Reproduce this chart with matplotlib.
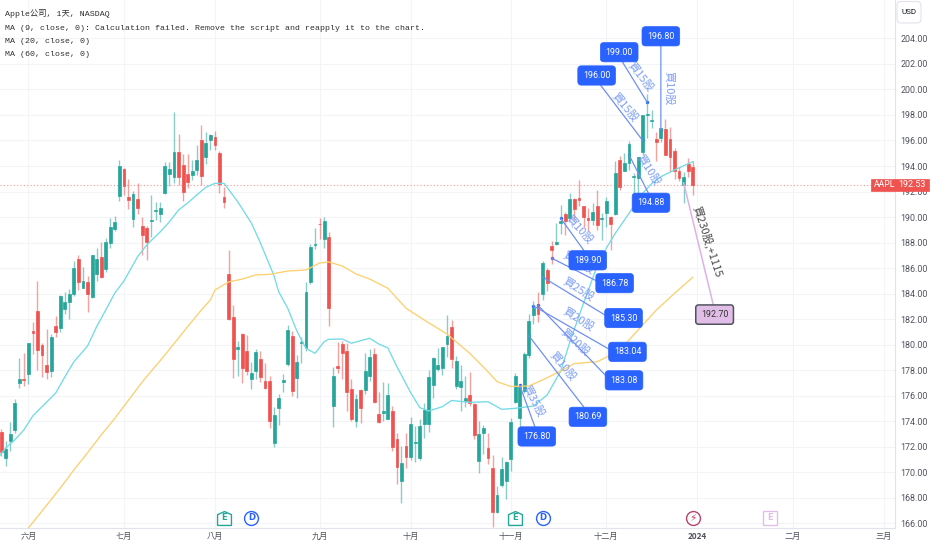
import matplotlib
matplotlib.use('Agg')
import matplotlib.pyplot as plt
from matplotlib.patches import Rectangle, FancyBboxPatch
from matplotlib.transforms import blended_transform_factory, IdentityTransform

# AAPL daily, one entry per bar, 2023-05-23 .. 2023-12-29
open_ = [173.13, 171.09, 172.41, 173.32, 176.96, 177.33,
         177.70, 181.03, 182.63, 179.97, 178.44, 177.90, 181.50, 181.27, 182.80, 183.37, 183.96, 186.73, 184.41, 184.90, 183.74, 185.55, 186.83, 185.89, 187.93, 189.08, 191.63,
         193.78, 191.57, 189.84, 191.41, 189.26, 189.16, 189.68, 190.50, 190.23, 191.90, 193.35, 193.10, 195.09, 194.10, 193.41, 193.33, 193.67, 196.02, 194.67, 196.06,
         196.24, 195.04, 191.57, 185.52, 182.13, 179.69, 180.87, 179.48, 177.32, 177.97, 178.88, 177.13, 177.14, 172.30, 175.07, 177.06, 178.52, 180.67, 177.38, 180.09, 179.70, 184.94, 187.84,
         189.49, 188.28, 188.40, 175.18, 178.35, 180.07, 179.49, 176.51, 174.00, 176.48, 176.48, 177.52, 179.26, 174.55, 174.67, 174.20, 174.82, 172.62, 169.34, 172.02,
         171.22, 172.26, 171.09, 173.79, 173.80, 176.81, 178.10, 178.20, 180.07, 181.42, 176.75, 176.65, 175.58, 176.04, 175.31, 170.91, 173.05, 171.88, 170.37, 166.91, 169.02, 169.35,
         171.00, 175.52, 174.24, 176.38, 179.18, 182.35, 182.96, 183.97, 185.82, 187.70, 187.85, 189.57, 190.25, 189.89, 191.41, 191.49, 190.87, 189.92, 189.78, 190.90, 189.84,
         190.33, 189.98, 190.21, 194.45, 193.63, 194.20, 193.11, 193.08, 195.09, 198.02, 197.53, 196.09, 196.16, 196.90, 196.10, 195.18, 193.61, 192.49, 194.14, 193.90]
high = [173.38, 172.42, 173.90, 175.77, 178.99, 179.35,
        180.12, 181.78, 184.95, 180.12, 181.21, 180.84, 182.23, 183.89, 184.15, 184.39, 186.52, 186.99, 186.10, 185.41, 187.05, 187.56, 188.05, 188.39, 189.90, 190.07, 194.48,
        193.88, 192.98, 192.02, 192.67, 189.99, 189.30, 191.70, 191.19, 191.18, 194.32, 194.33, 198.23, 196.47, 194.97, 194.91, 194.44, 195.64, 197.20, 196.63, 196.49,
        196.73, 195.18, 192.37, 187.38, 183.13, 180.27, 180.93, 180.75, 178.62, 179.69, 179.48, 178.54, 177.51, 175.10, 176.13, 177.68, 181.55, 181.10, 179.15, 180.59, 184.90, 187.85, 189.12,
        189.92, 189.98, 188.85, 178.21, 180.24, 180.30, 180.13, 177.30, 176.10, 176.50, 179.38, 179.63, 179.70, 176.30, 177.08, 176.97, 175.20, 173.04, 172.03, 173.07,
        174.30, 173.63, 174.21, 175.45, 177.99, 179.05, 179.72, 179.85, 182.34, 181.93, 179.08, 178.42, 177.58, 177.84, 175.42, 174.01, 173.67, 173.06, 171.38, 168.96, 171.17, 170.90,
        174.23, 177.78, 176.82, 179.43, 182.44, 183.45, 184.12, 186.57, 186.03, 188.11, 189.50, 190.96, 190.38, 191.91, 191.52, 192.93, 190.90, 190.67, 191.08, 192.09, 190.32,
        191.56, 190.05, 194.40, 194.76, 195.00, 195.99, 193.49, 194.72, 198.00, 199.62, 198.40, 196.63, 196.95, 197.68, 197.08, 195.41, 193.89, 193.50, 194.66, 194.40]
low = [171.28, 170.52, 171.69, 173.11, 176.57, 176.76,
       176.93, 179.26, 178.04, 177.43, 177.32, 177.46, 180.63, 180.97, 182.44, 182.02, 183.78, 184.27, 184.41, 182.59, 183.67, 185.01, 185.23, 185.67, 187.60, 188.94, 191.26,
       191.76, 190.62, 189.20, 190.24, 187.04, 186.60, 188.47, 189.78, 189.63, 191.81, 192.42, 192.65, 192.50, 191.23, 192.25, 192.92, 193.32, 192.55, 194.14, 195.26,
       195.28, 191.85, 190.69, 181.92, 177.35, 177.58, 177.01, 177.60, 176.55, 177.31, 177.05, 176.50, 173.48, 171.96, 173.74, 176.25, 178.33, 176.01, 175.82, 178.55, 179.50, 184.74, 187.48,
       188.28, 187.61, 181.47, 173.54, 177.79, 177.34, 174.82, 173.98, 173.58, 173.82, 176.17, 177.13, 175.40, 173.86, 174.05, 174.15, 171.66, 169.05, 167.62, 170.34,
       170.93, 170.82, 170.97, 172.68, 173.18, 175.80, 177.95, 177.60, 179.04, 178.14, 176.51, 174.80, 175.11, 175.19, 172.64, 169.93, 171.45, 170.65, 165.67, 166.83, 168.87, 167.90,
       170.12, 175.46, 173.35, 176.21, 178.97, 181.59, 181.81, 183.53, 184.21, 186.30, 187.78, 188.65, 188.57, 189.88, 189.74, 190.83, 189.25, 188.90, 189.40, 188.97, 188.19,
       189.23, 187.45, 190.18, 192.11, 193.59, 193.67, 191.42, 191.72, 194.85, 196.16, 197.00, 194.39, 195.89, 194.83, 193.50, 192.97, 192.83, 191.09, 193.17, 191.73]
close = [171.56, 171.84, 172.99, 175.43, 177.30, 177.25,
         180.09, 180.95, 179.58, 179.21, 177.82, 180.57, 180.96, 183.79, 183.31, 183.95, 186.01, 184.92, 185.01, 183.96, 187.00, 186.68, 185.27, 188.06, 189.25, 189.59, 193.97,
         192.46, 191.33, 191.81, 190.68, 188.61, 188.08, 189.77, 190.54, 190.69, 193.99, 193.73, 195.10, 193.13, 191.94, 192.75, 193.62, 194.50, 193.22, 195.83, 196.45,
         195.61, 192.58, 191.17, 181.99, 178.85, 179.80, 178.19, 177.97, 177.79, 179.46, 177.45, 176.57, 174.00, 174.49, 175.84, 177.23, 181.12, 176.38, 178.61, 180.19, 184.12, 187.65, 187.87,
         189.46, 189.70, 182.91, 177.56, 178.18, 179.36, 176.30, 174.21, 175.74, 175.01, 177.97, 179.07, 175.49, 173.93, 174.79, 176.08, 171.96, 170.43, 170.69, 171.21,
         173.75, 172.40, 173.66, 174.91, 177.49, 178.99, 178.39, 179.80, 180.71, 178.85, 178.72, 177.15, 175.84, 175.46, 172.88, 173.00, 173.44, 171.10, 166.89, 168.22, 170.29, 170.77,
         173.97, 177.57, 176.65, 179.23, 181.82, 182.89, 182.41, 186.40, 184.80, 187.44, 188.01, 189.71, 189.69, 191.45, 190.64, 191.31, 189.97, 189.79, 190.40, 189.37, 189.95,
         191.24, 189.43, 193.42, 192.32, 194.27, 195.71, 193.18, 194.71, 197.96, 198.11, 197.57, 195.89, 196.94, 194.83, 194.68, 193.60, 193.05, 193.15, 193.58, 192.53]

# moving averages at these bars
ma20_bars = [-1, 1, 3, 5, 7, 9, 12, 14, 16, 19, 21, 23, 25, 27, 30, 32, 35, 37, 39, 41, 43, 45, 47, 49, 52, 55, 57, 60, 61, 63, 65, 67, 69, 71, 72, 75, 77, 81, 83, 85, 87, 90, 92, 94, 97, 99, 103, 107, 110, 113, 117, 120, 123, 125, 128, 131, 133, 135, 137, 139, 140, 143, 145, 148, 152]
ma20 = [171.0, 171.90, 172.53, 173.31, 174.43, 175.14, 176.21, 177.46, 178.66, 179.89, 181.41, 182.71, 184.05, 184.99, 186.89, 187.81, 188.85, 189.63, 190.55, 191.10, 191.73, 192.33, 192.64, 192.64, 191.20, 189.53, 187.97, 185.38, 184.15, 182.85, 181.07, 179.71, 179.32, 180.23, 180.42, 180.44, 180.11, 180.50, 180.05, 179.74, 178.27, 176.25, 175.07, 174.80, 175.14, 175.62, 175.48, 175.53, 174.93, 175.01, 175.19, 176.05, 177.93, 180.21, 183.24, 186.16, 187.55, 188.73, 189.77, 190.81, 191.47, 192.63, 193.16, 193.69, 194.34]
ma60_bars = [6, 9, 13, 16, 19, 22, 25, 31, 36, 41, 44, 46, 47, 50, 53, 56, 59, 63, 67, 70, 72, 75, 78, 81, 85, 89, 93, 98, 103, 107, 109, 112, 116, 119, 123, 126, 131, 134, 137, 140, 144, 148, 152]
ma60 = [165.63, 166.96, 168.76, 170.18, 171.53, 172.92, 174.23, 177.07, 179.19, 181.41, 182.71, 183.50, 184.28, 184.91, 185.14, 185.46, 185.51, 185.77, 185.85, 186.40, 186.48, 186.16, 185.54, 185.14, 184.42, 182.85, 181.93, 180.83, 179.32, 177.88, 177.10, 176.72, 176.76, 177.23, 177.93, 178.52, 178.66, 179.19, 179.97, 181.15, 182.71, 184.02, 185.28]

last_price = 192.53
month_bars = [6, 27, 47, 70, 90, 112, 133, 153, 174, 194]
month_labels = ['六月', '七月', '八月', '九月', '十月', '十一月', '十二月', '2024', '二月', '三月']

# trades: where they sit on the chart and what they say
trade_bars = [114, 116, 118, 117, 119, 121, 123, 138, 141, 142, 145]
trade_prices = [176.80, 180.69, 183.08, 183.04, 185.30, 186.78, 189.90, 194.88, 196.00, 199.00, 196.80]
trade_notes = ['買35股', '買10股', '買20股', '買20股', '買25股', '買15股', '買10股', '買10股', '買15股', '買15股', '買10股']
# pixel offsets of price box and note from the trade point, note angle
box_off = [(17, -51), (59, -81), (86, -75), (94, -46), (81, -41), (63, -25), (27, -42), (22, -48), (-46, 65), (-28, 50), (0, 94)]
box_side = [(0.5, 1), (0.5, 1), (0, 0.5), (0, 0.5), (0, 0.5), (0, 0.5), (0.5, 1), (0.5, 1), (0.5, 0), (0.5, 0), (0.5, 0)]
note_off = [(13, -16), (34, -31), (37, -37), (45, -14), (36, -13), (27, -5), (19, -11), (19, -15), (-18, 33), (-7, 25), (8, 42)]
note_rot = [-62, -50, -42, -32, -32, -30, -47, -57, -50, -52, -90]

TEAL = '#26a69a'
RED = '#ef5350'
BLUE = '#2962ff'
NOTE_BLUE = '#7f9ff7'
GREY = '#50535e'
CJK = 'Noto Sans CJK TC'
S_W, S_H = 932, 550

fig = plt.figure(figsize=(9.32, 5.5), dpi=100)
ax = fig.add_axes([0, 1 - 528 / S_H, 895 / S_W, 528 / S_H])
ax.set_xlim(-0.24, 196.46)
ax.set_ylim(165.63, 207.01)

# grid
ax.set_yticks(range(166, 206, 2))
ax.set_yticklabels(['%.2f' % v for v in range(166, 206, 2)], family='Roboto', fontsize=6.4, color=GREY)
ax.set_xticks(month_bars)
ax.set_xticklabels(month_labels, family=CJK, fontsize=5.9, color=GREY)
ax.get_xticklabels()[7].set_fontweight('bold')
ax.grid(color='#f3f4f7', lw=0.8)
ax.set_axisbelow(True)
ax.yaxis.tick_right()
ax.tick_params(axis='y', length=0, pad=4)
ax.tick_params(axis='x', length=0, pad=3)
for s in ['top', 'left']:
    ax.spines[s].set_visible(False)
for s in ['right', 'bottom']:
    ax.spines[s].set_color('#e0e3eb')

# candles
bars = list(range(len(close)))
colors = [TEAL if c >= o else RED for o, c in zip(open_, close)]
ax.vlines(bars, low, high, colors=colors, lw=1.0, alpha=0.55, zorder=3)
ax.bar(bars, [abs(c - o) for o, c in zip(open_, close)], bottom=[min(o, c) for o, c in zip(open_, close)],
       width=0.62, color=colors, edgecolor=colors, lw=0.5, zorder=3.1)

# averages and last price
ax.plot(ma20_bars, ma20, color='#72dbe6', lw=0.95, zorder=4)
ax.plot(ma60_bars, ma60, color='#fdd06f', lw=0.95, zorder=4)
ax.axhline(last_price, color=RED, lw=0.8, ls=(0, (1, 2)), alpha=0.6, zorder=2)

# trade callouts
ax.scatter(trade_bars, trade_prices, s=6, color=BLUE, lw=0, zorder=2.9)
for b, p, off, side, n_off, note, rot in zip(trade_bars, trade_prices, box_off, box_side, note_off, trade_notes, note_rot):
    ax.annotate('%.2f' % p, xy=(b, p), xytext=off, textcoords='offset pixels', ha='center', va='center',
                family='Roboto', fontsize=6.4, color='white', zorder=7, annotation_clip=False,
                bbox=dict(boxstyle='round,pad=0.58,rounding_size=0.4', fc=BLUE, ec=BLUE, lw=0.5),
                arrowprops=dict(arrowstyle='-', color='#6f8ff5', lw=0.9, shrinkA=0, shrinkB=0, relpos=side))
    ax.annotate(note, xy=(b, p), xytext=n_off, textcoords='offset pixels', ha='center', va='center',
                family=CJK, fontsize=8, color=NOTE_BLUE, rotation=rot, rotation_mode='anchor', zorder=6)

# the closing trade
ax.annotate('192.70', xy=(150, 192.70), xytext=(31, -132), textcoords='offset pixels', ha='center', va='center',
            family='Roboto', fontsize=6.4, color='#333333', zorder=7,
            bbox=dict(boxstyle='round,pad=0.58,rounding_size=0.3', fc='#e1bee7', ec='#50535e', lw=1.1),
            arrowprops=dict(arrowstyle='-', color='#dcb3e4', lw=1.1, shrinkA=0, shrinkB=0, relpos=(0.5, 1)))
ax.annotate('買230股,+1115', xy=(150, 192.70), xytext=(24, -59), textcoords='offset pixels', ha='center', va='center',
            family=CJK, fontsize=8, color='#4a4a4a', rotation=-72, rotation_mode='anchor', zorder=6)

# events along the bottom
low_tr = blended_transform_factory(ax.transData, ax.transAxes)
house = [(-1, -1), (1, -1), (1, 0.55), (0, 1), (-1, 0.55), (-1, -1)]
ev_y = 10 / 528
for b, mk, col, txt, tc, fs in [(49, house, TEAL, 'E', TEAL, 6.2), (55, 'o', BLUE, 'D', BLUE, 6.2),
                                (113, house, TEAL, 'E', TEAL, 6.2), (119, 'o', BLUE, 'D', BLUE, 6.2),
                                (152, 'o', '#b5446e', '⚡', '#d0345f', 7.5), (169, 's', '#e1bee7', 'E', '#e1bee7', 6.2)]:
    ax.plot([b], [ev_y], marker=mk, ms=10, mfc='white', mec=col, mew=1.0, transform=low_tr, zorder=5, clip_on=False)
    ax.text(b, ev_y, txt, transform=low_tr, ha='center', va='center', fontsize=fs, color=tc,
            family='DejaVu Sans', fontweight='bold', zorder=6)

# last price tag over the axis
tag_tr = blended_transform_factory(ax.transAxes, ax.transData)
ax.add_patch(Rectangle((871 / 895, last_price - 0.49), 58 / 895, 0.98, transform=tag_tr, fc=RED, ec=RED,
                       lw=0.5, clip_on=False, zorder=10))
ax.text(874 / 895, last_price, 'AAPL', transform=tag_tr, ha='left', va='center', family='Roboto', fontsize=6.2,
        color='white', zorder=11)
ax.text(926 / 895, last_price, '%.2f' % last_price, transform=tag_tr, ha='right', va='center', family='Roboto',
        fontsize=6.4, color='white', zorder=11)

# legend text
legend_lines = ['Apple公司, 1天, NASDAQ',
                'MA (9, close, 0): Calculation failed. Remove the script and reapply it to the chart.',
                'MA (20, close, 0)', 'MA (60, close, 0)']
for y_px, line in zip([16, 30, 43, 56], legend_lines):
    fig.text(5 / S_W, 1 - y_px / S_H, line, family=['Liberation Mono', 'Noto Sans CJK SC'], fontsize=5.95,
             color='#2f2f2f', va='baseline', ha='left')

# currency button
fig.add_artist(FancyBboxPatch((897, S_H - 23), 24, 21.5, boxstyle='round,pad=0,rounding_size=4', fc='white',
                              ec='#e0e3eb', lw=0.8, transform=IdentityTransform()))
fig.text(909 / S_W, 1 - 12.5 / S_H, 'USD', family='Roboto', fontsize=5.9, color='#131722', ha='center', va='center')

fig.savefig('out.png', dpi=100)
